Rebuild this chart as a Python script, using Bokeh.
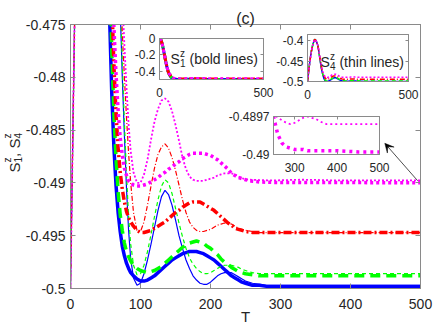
import math
from bokeh.plotting import figure
from bokeh.models import Range1d, FixedTicker, LinearAxis, Label, Arrow, VeeHead
from bokeh.embed import file_html
from bokeh.resources import INLINE

# ---------------- data ----------------
T_EARLY = [0, 3, 6, 9, 12, 16, 20, 25, 30, 35, 40, 45]
T_LATE = [50, 53, 56, 59, 62, 65, 68, 71, 74, 77, 80, 83, 86, 90, 95,
          100, 105, 110, 115, 120, 125, 130, 135, 140, 145, 150, 155, 160, 165, 170, 175,
          180, 185, 190, 195, 200, 205, 210, 215, 220, 225, 230, 235, 240, 245, 250,
          260, 270, 280, 290, 300, 310, 320, 330, 340, 350, 360, 375, 400, 450, 500]

# S1^z (bold lines), common start
S1_EARLY = [0, -0.004, -0.015, -0.034, -0.06, -0.10, -0.15, -0.215, -0.28, -0.34, -0.39, -0.425]
# S4^z (thin lines), common start
S4_EARLY = [-0.5, -0.4869, -0.4741, -0.4618, -0.4502, -0.4360, -0.4241, -0.4125, -0.4042, -0.3972, -0.3985, -0.4030]

S1_BLUE = [-0.4513, -0.4649, -0.4746, -0.4816, -0.4866, -0.4902, -0.4928, -0.4946, -0.4960, -0.4969, -0.4976, -0.4981, -0.4985, -0.4988, -0.4991,
           -0.4993, -0.4993, -0.4992, -0.4990, -0.4988, -0.4985, -0.4982, -0.4979, -0.4976, -0.4973, -0.4971, -0.4969, -0.4967, -0.4966, -0.4965, -0.4965,
           -0.4965, -0.4966, -0.4967, -0.4969, -0.4971, -0.4973, -0.4976, -0.4979, -0.4982, -0.4985, -0.4988, -0.4990, -0.4992, -0.4994, -0.4995,
           -0.4997, -0.4997, -0.4998, -0.4998, -0.4998, -0.4998, -0.4998, -0.4998, -0.4998, -0.4998, -0.4998, -0.4998, -0.4998, -0.4998, -0.4998]
S1_GREEN = [-0.4450, -0.4585, -0.4692, -0.4775, -0.4834, -0.4877, -0.4908, -0.4930, -0.4945, -0.4957, -0.4965, -0.4970, -0.4974, -0.4978, -0.4981,
            -0.4983, -0.4984, -0.4985, -0.4984, -0.4983, -0.4981, -0.4979, -0.4976, -0.4973, -0.4970, -0.4967, -0.4964, -0.4961, -0.4959, -0.4957, -0.4956,
            -0.4955, -0.4956, -0.4957, -0.4960, -0.4962, -0.4965, -0.4968, -0.4972, -0.4975, -0.4977, -0.4980, -0.4982, -0.4984, -0.4985, -0.4986,
            -0.4987, -0.4988, -0.4988, -0.4988, -0.4988, -0.4988, -0.4988, -0.4988, -0.4988, -0.4988, -0.4988, -0.4988, -0.4988, -0.4988, -0.4988]
S1_RED = [-0.4400, -0.4540, -0.4639, -0.4727, -0.4789, -0.4834, -0.4867, -0.4890, -0.4906, -0.4918, -0.4927, -0.4933, -0.4937, -0.4941, -0.4945,
          -0.4947, -0.4947, -0.4946, -0.4945, -0.4943, -0.4941, -0.4939, -0.4937, -0.4934, -0.4931, -0.4928, -0.4926, -0.4923, -0.4921, -0.4919, -0.4918,
          -0.4918, -0.4918, -0.4920, -0.4922, -0.4924, -0.4926, -0.4929, -0.4932, -0.4935, -0.4938, -0.4940, -0.4943, -0.4944, -0.4945, -0.4946,
          -0.4947, -0.4947, -0.4947, -0.4947, -0.4947, -0.4947, -0.4947, -0.4947, -0.4947, -0.4947, -0.4947, -0.4947, -0.4947, -0.4947, -0.4947]
S1_MAGENTA = [-0.4360, -0.4500, -0.4615, -0.4695, -0.4752, -0.4797, -0.4831, -0.4857, -0.4874, -0.4886, -0.4893, -0.4898, -0.4900, -0.4902, -0.4903,
              -0.4903, -0.4902, -0.4901, -0.4899, -0.4897, -0.4895, -0.4892, -0.4890, -0.4887, -0.4885, -0.4882, -0.4880, -0.4877, -0.4875, -0.4873, -0.4872,
              -0.4872, -0.4872, -0.4872, -0.4873, -0.4874, -0.4876, -0.4878, -0.4881, -0.4884, -0.4887, -0.4891, -0.4893, -0.4895, -0.4896, -0.4897,
              -0.48984, -0.48991, -0.48994, -0.48995, -0.48996, -0.48996, -0.48996, -0.48997, -0.48997, -0.48997, -0.48997, -0.48997, -0.48997, -0.48998, -0.48998]

S4_BLUE = [-0.4100, -0.4170, -0.4265, -0.4365, -0.4465, -0.4565, -0.4660, -0.4735, -0.4800, -0.4855, -0.4905, -0.4945, -0.4972, -0.4990, -0.4997,
           -0.4995, -0.4986, -0.4973, -0.4958, -0.4942, -0.4926, -0.4913, -0.4907, -0.4911, -0.4921, -0.4935, -0.4950, -0.4962, -0.4973, -0.4981, -0.4988,
           -0.4992, -0.4995, -0.4996, -0.4996, -0.4994, -0.4991, -0.4988, -0.4986, -0.4985, -0.4985, -0.4985, -0.4987, -0.4989, -0.4991, -0.4993,
           -0.4995, -0.4996, -0.4997, -0.4997, -0.4997, -0.4997, -0.4997, -0.4997, -0.4997, -0.4997, -0.4997, -0.4997, -0.4997, -0.4997, -0.4997]
S4_GREEN = [-0.4100, -0.4170, -0.4262, -0.4360, -0.4458, -0.4555, -0.4648, -0.4722, -0.4787, -0.4843, -0.4892, -0.4932, -0.4958, -0.4978, -0.4987,
            -0.4986, -0.4978, -0.4965, -0.4949, -0.4932, -0.4916, -0.4903, -0.4897, -0.4900, -0.4910, -0.4924, -0.4938, -0.4951, -0.4962, -0.4971, -0.4977,
            -0.4981, -0.4984, -0.4986, -0.4986, -0.4985, -0.4983, -0.4981, -0.4979, -0.4978, -0.4978, -0.4978, -0.4979, -0.4980, -0.4982, -0.4983,
            -0.4985, -0.4986, -0.4986, -0.4986, -0.4986, -0.4986, -0.4986, -0.4986, -0.4986, -0.4986, -0.4986, -0.4986, -0.4986, -0.4986, -0.4986]
S4_RED = [-0.4100, -0.4165, -0.4255, -0.4350, -0.4445, -0.4538, -0.4625, -0.4700, -0.4757, -0.4800, -0.4838, -0.4872, -0.4900, -0.4928, -0.4945,
          -0.4946, -0.4937, -0.4921, -0.4903, -0.4886, -0.4873, -0.4866, -0.4863, -0.4867, -0.4876, -0.4888, -0.4902, -0.4916, -0.4928, -0.4937, -0.4942,
          -0.4945, -0.4946, -0.4946, -0.4945, -0.4944, -0.4942, -0.4940, -0.4939, -0.4938, -0.4938, -0.4939, -0.4941, -0.4943, -0.4944, -0.4945,
          -0.4946, -0.4947, -0.4947, -0.4947, -0.4947, -0.4947, -0.4947, -0.4947, -0.4947, -0.4947, -0.4947, -0.4947, -0.4947, -0.4947, -0.4947]
S4_MAGENTA = [-0.4100, -0.4160, -0.4245, -0.4335, -0.4428, -0.4518, -0.4600, -0.4670, -0.4725, -0.4770, -0.4810, -0.4845, -0.4870, -0.4890, -0.4900,
              -0.4900, -0.4892, -0.4878, -0.4859, -0.4842, -0.4830, -0.4822, -0.4820, -0.4823, -0.4832, -0.4845, -0.4860, -0.4876, -0.4887, -0.4894, -0.4897,
              -0.4898, -0.4898, -0.4898, -0.4897, -0.4896, -0.4895, -0.4893, -0.4892, -0.4891, -0.4891, -0.4891, -0.4892, -0.4894, -0.48955, -0.48967,
              -0.48971, -0.48973, -0.48975, -0.48976, -0.48975, -0.48973, -0.48971, -0.48970, -0.48971, -0.48972, -0.48974, -0.48976, -0.48976, -0.48976, -0.48976]

MAIN_X_TICKS = [0, 100, 200, 300, 400, 500]
MAIN_X_LABELS = ["0", "100", "200", "300", "400", "500"]
MAIN_Y_TICKS = [-0.5, -0.495, -0.49, -0.485, -0.48, -0.475]
MAIN_Y_LABELS = ["-0.5", "-0.495", "-0.49", "-0.485", "-0.48", "-0.475"]
IN1_X_TICKS = [0, 500]
IN1_X_LABELS = ["0", "500"]
IN1_Y_TICKS = [-0.4, -0.2, 0]
IN1_Y_LABELS = ["-0.4", "-0.2", "0"]
IN2_X_TICKS = [0, 500]
IN2_X_LABELS = ["0", "500"]
IN2_Y_TICKS = [-0.5, -0.45, -0.4]
IN2_Y_LABELS = ["-0.5", "-0.45", "-0.4"]
IN3_X_TICKS = [300, 400, 500]
IN3_X_LABELS = ["300", "400", "500"]
IN3_Y_TICKS = [-0.49, -0.4897]
IN3_Y_LABELS = ["-0.49", "-0.4897"]

COLORS = ["blue", "green", "red", "magenta"]
# ---------------- assembly ----------------
T = T_EARLY + T_LATE
BOLD = {"blue": S1_EARLY + S1_BLUE, "green": S1_EARLY + S1_GREEN,
        "red": S1_EARLY + S1_RED, "magenta": S1_EARLY + S1_MAGENTA}
THIN = {"blue": S4_EARLY + S4_BLUE, "green": S4_EARLY + S4_GREEN,
        "red": S4_EARLY + S4_RED, "magenta": S4_EARLY + S4_MAGENTA}

HEX = {"blue": "#0000ff", "green": "#00ff00", "red": "#ff0000", "magenta": "#ff00ff"}
BOLD_DASH = {"blue": "solid", "green": "10 6", "red": "8 3 2 3", "magenta": "3 3"}
THIN_DASH = {"blue": "solid", "green": "4 3", "red": "5 2 1 2", "magenta": "2 2"}
THIN_W = {"blue": 1.2, "green": 1.2, "red": 1.2, "magenta": 1.8}

LINE = "#8a8a8a"
TXT = "#262626"
FONT = "Liberation Sans"
PAGE_W, PAGE_H = 436, 327


def style_axes(f, xt, xl, yt, yl, fs, xstand, ystand, tick):
    for ax, ticks, labels, stand in ((f.xaxis[0], xt, xl, xstand), (f.yaxis[0], yt, yl, ystand)):
        ax.ticker = FixedTicker(ticks=ticks)
        ax.major_label_overrides = {t: l for t, l in zip(ticks, labels)}
        ax.major_tick_in = tick
        ax.major_tick_out = 0
        ax.minor_tick_line_color = None
        ax.axis_line_color = LINE
        ax.major_tick_line_color = LINE
        ax.major_label_text_color = TXT
        ax.major_label_text_font = FONT
        ax.major_label_text_font_size = f"{fs}px"
        ax.major_label_standoff = stand
    for ticks, side in ((xt, "above"), (yt, "right")):
        ax = LinearAxis(ticker=FixedTicker(ticks=ticks),
                        major_label_overrides={t: "" for t in ticks},
                        major_label_text_font_size="1px", major_label_standoff=0,
                        major_tick_in=tick, major_tick_out=0,
                        minor_tick_line_color=None, axis_line_color=LINE,
                        major_tick_line_color=LINE)
        f.add_layout(ax, side)
    f.grid.visible = False


# ---------------- main figure ----------------
p = figure(width=PAGE_W, height=326, x_range=Range1d(0, 500), y_range=Range1d(-0.5, -0.475),
           toolbar_location=None, output_backend="svg",
           min_border_left=70, min_border_right=16, min_border_top=24, min_border_bottom=38,
           background_fill_color="white", border_fill_color="white", outline_line_color=LINE)
style_axes(p, MAIN_X_TICKS, MAIN_X_LABELS, MAIN_Y_TICKS, MAIN_Y_LABELS, 14, 10, 5, 5)

for c in COLORS:
    p.line(T, BOLD[c], line_color=HEX[c], line_width=3.5, line_dash=BOLD_DASH[c])
    p.line(T, THIN[c], line_color=HEX[c], line_width=THIN_W[c], line_dash=THIN_DASH[c])

p.add_layout(Arrow(end=VeeHead(size=9, fill_color="black", line_color="black", line_width=0.5),
                   x_start=496, y_start=-0.4898, x_end=449, y_end=-0.48625,
                   line_color="black", line_width=0.7))


# ---------------- insets (absolutely placed over the main figure) ----------------
def inset(fl, ft, fw, fh, L, R, Tp, B, xr, yr):
    return figure(width=L + fw + R, height=Tp + fh + B, x_range=Range1d(*xr), y_range=Range1d(*yr),
                  toolbar_location=None, output_backend="svg",
                  min_border_left=L, min_border_right=R, min_border_top=Tp, min_border_bottom=B,
                  border_fill_color=None, background_fill_color="white", outline_line_color=LINE,
                  styles={"position": "absolute", "left": f"{fl - L}px", "top": f"{ft - Tp}px"})


def sub_label(f, x, y, main, sup, sub, rest):
    f.add_layout(Label(x=x, y=y, text=main, text_font=FONT, text_font_size="14px", text_color=TXT,
                       text_baseline="alphabetic"))
    f.add_layout(Label(x=x, y=y, x_offset=9.5, y_offset=6, text=sup, text_font=FONT,
                       text_font_size="10px", text_color=TXT, text_baseline="alphabetic"))
    f.add_layout(Label(x=x, y=y, x_offset=9.5, y_offset=-4, text=sub, text_font=FONT,
                       text_font_size="10px", text_color=TXT, text_baseline="alphabetic"))
    f.add_layout(Label(x=x, y=y, x_offset=19, text=rest, text_font=FONT, text_font_size="14px",
                       text_color=TXT, text_baseline="alphabetic"))


i1 = inset(159, 38, 104, 41, 30, 12, 8, 26, (0, 500), (-0.5, 0))
style_axes(i1, IN1_X_TICKS, IN1_X_LABELS, IN1_Y_TICKS, IN1_Y_LABELS, 12, 8, 4, 3)
for c in COLORS:
    i1.line(T, BOLD[c], line_color=HEX[c], line_width=3, line_dash=BOLD_DASH[c])
sub_label(i1, 53, -0.252, "S", "z", "1", "(bold lines)")

i2 = inset(307, 34, 101, 47, 36, 12, 8, 26, (0, 500), (-0.5, -0.385))
style_axes(i2, IN2_X_TICKS, IN2_X_LABELS, IN2_Y_TICKS, IN2_Y_LABELS, 12, 8, 4, 3)
for c in COLORS:
    i2.line(T, THIN[c], line_color=HEX[c], line_width=1.5, line_dash=THIN_DASH[c])
sub_label(i2, 64, -0.4535, "S", "z", "4", "(thin lines)")

i3 = inset(273, 116, 106, 38, 50, 12, 8, 26, (250, 500), (-0.49, -0.4897))
style_axes(i3, IN3_X_TICKS, IN3_X_LABELS, IN3_Y_TICKS, IN3_Y_LABELS, 12, 8, 4, 3)
i3.line(T, BOLD["magenta"], line_color=HEX["magenta"], line_width=3.5, line_dash="3 4")
i3.line(T, THIN["magenta"], line_color=HEX["magenta"], line_width=1.8, line_dash="2 3")

# ---------------- transparent text layer for title and axis titles ----------------
ov = figure(width=PAGE_W, height=PAGE_H, x_range=Range1d(0, PAGE_W), y_range=Range1d(0, PAGE_H),
            toolbar_location=None, output_backend="svg", x_axis_type=None, y_axis_type=None,
            min_border_left=0, min_border_right=0, min_border_top=0, min_border_bottom=0,
            background_fill_color=None, border_fill_color=None, outline_line_color=None,
            styles={"position": "absolute", "left": "0px", "top": "0px"})
ov.grid.visible = False


def page_label(x, y, text, fs, **kw):
    ov.add_layout(Label(x=x, y=PAGE_H - y, text=text, text_font=FONT, text_font_size=f"{fs}px",
                        text_color=TXT, text_baseline="alphabetic", **kw))


page_label(245, 18, "(c)", 16, text_align="center")
page_label(245, 316, "T", 15, text_align="center")
# rotated y title  S1^z, S4^z  (reads bottom to top)
for txt, along, perp, fs in (("S", 0, 0, 15), ("z", 10, 6.5, 10), ("1", 10, -4, 10),
                             (",", 15.6, 0, 15), ("S", 24, 0, 15), ("z", 34, 6.5, 10), ("4", 34, -4, 10)):
    page_label(13.5, 172, txt, fs, x_offset=-perp, y_offset=along, angle=math.pi / 2)

roots = [p, i1, i2, i3, ov]
open("out.html", "w").write(file_html(roots, INLINE))
